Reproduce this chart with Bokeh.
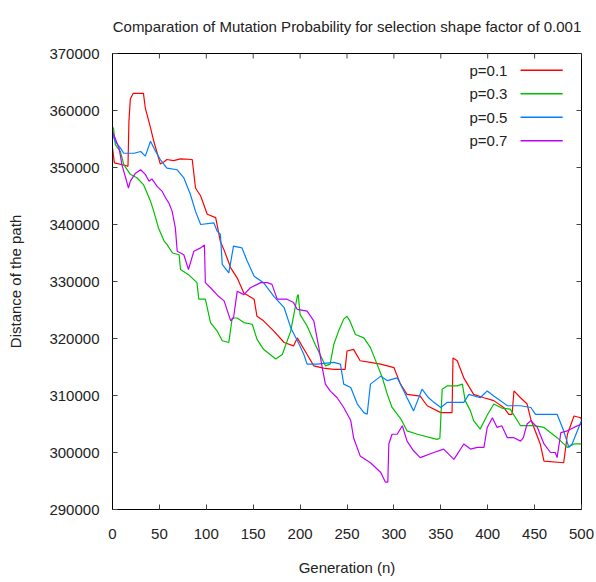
import math
from bokeh.plotting import figure
from bokeh.models import Range1d, SingleIntervalTicker, BasicTickFormatter, ColumnDataSource
from bokeh.core.properties import value
from bokeh.embed import file_html
from bokeh.resources import INLINE

TITLE = "Comparation of Mutation Probability for selection shape factor of 0.001"
X_LABEL = "Generation (n)"
Y_LABEL = "Distance of the path"
SERIES_NAMES = ["p=0.1", "p=0.3", "p=0.5", "p=0.7"]
SERIES_COLORS = ["#ff0000", "#00c000", "#0080ff", "#c000ff"]

X_MIN, X_MAX, X_STEP = 0, 500, 50
Y_MIN, Y_MAX, Y_STEP = 290000, 370000, 10000

gen_01 = [0, 2, 15, 16.5, 17.5, 19, 22, 33, 35, 40.5, 44, 51, 55, 58, 65, 72.5, 85, 88.5, 94, 101,
          110, 115, 119, 126, 133, 140, 151, 154, 161, 172, 183, 193, 197, 207.5, 214.6, 225, 236,
          248, 250, 257, 264, 275, 286, 293, 300, 307, 314, 328, 335.5, 350, 362, 363, 367.5,
          374.5, 385, 396, 406.5, 417, 422.5, 426, 428, 435, 442, 446, 456, 460, 481, 485, 492,
          499, 500]
val_01 = [353400, 350800, 350300, 350200, 358000, 362000, 363000, 363000, 360400, 357000, 354600,
          350600, 351000, 351400, 351200, 351500, 351400, 346400, 345000, 341800, 341200, 337000,
          335500, 332400, 330600, 328000, 326900, 323900, 323100, 321300, 319300, 318700, 320100,
          317200, 315200, 314800, 314600, 314600, 317800, 318100, 316100, 315800, 315500, 315200,
          314900, 312000, 310200, 309900, 308200, 307000, 307000, 316600, 316100, 313100, 310200,
          309600, 309100, 307900, 306700, 306700, 310800, 309600, 308500, 305800, 301500, 298500,
          298200, 303200, 306400, 306100, 305800]

gen_03 = [0, 1, 3, 8.5, 12, 19, 26, 33, 39, 40.5, 44, 49, 55, 58, 64, 71, 72.5, 81, 90, 92, 99,
          104.5, 111.6, 117, 124, 127.6, 133, 140, 149, 154, 161, 168, 174, 181, 190, 197, 198, 200,
          207.5, 216, 227, 232, 236, 241, 246.5, 250, 253, 259, 268, 275, 282, 287.5, 293, 298, 307,
          314, 325, 346, 349, 351.5, 357, 367.5, 373, 376, 381.6, 385, 392, 399, 406.5, 415, 424,
          435, 449, 460, 474, 485, 492, 500]
val_03 = [356600, 357000, 354000, 352800, 350500, 348800, 348200, 347000, 344700, 344100, 342300,
          339400, 337100, 336500, 335000, 334700, 332100, 331200, 329800, 326900, 326900, 322800,
          321300, 319600, 319300, 323600, 323600, 322800, 322500, 319900, 318100, 317200, 316400,
          317200, 321300, 327400, 327700, 324200, 322200, 319000, 315200, 315500, 319000, 321300,
          323400, 323900, 323100, 320700, 320100, 318400, 315500, 313200, 310200, 307900, 306000,
          303800, 303200, 302300, 302500, 311100, 311700, 311700, 312000, 309100, 307300, 305600,
          304100, 306400, 308500, 307800, 307600, 304700, 304700, 304400, 302600, 300900, 301500,
          301500]

gen_05 = [0, 3, 8.5, 12, 23, 30, 35, 40.5, 46, 51, 58, 69, 76, 83, 88.5, 94, 108, 111.6, 115, 117,
          124, 129, 138, 143.6, 151, 161, 172, 183, 190, 199, 204, 207.5, 218, 236, 243, 246.5, 254,
          261, 268, 271.5, 275, 286, 293, 303.5, 307, 314, 321, 330, 337, 342.6, 350, 357, 374.5,
          380, 392, 399.5, 406.5, 413.6, 421, 435, 446, 451, 474, 481, 486.5, 490, 497, 500]
val_05 = [355800, 354500, 353400, 352500, 352500, 352800, 352000, 354600, 352800, 351400, 349900,
          349600, 348200, 345300, 342300, 340000, 340300, 338800, 338300, 333000, 331500, 336200,
          335900, 333600, 330900, 329800, 327400, 325400, 321900, 319000, 317200, 315500, 315500,
          315800, 315500, 312000, 311400, 308500, 307000, 306700, 312000, 313400, 312600, 313100,
          312000, 309600, 307300, 311100, 309600, 308800, 307900, 308800, 308800, 310200, 309600,
          310800, 309900, 309100, 308200, 308200, 307900, 306700, 306700, 303800, 300900, 301500,
          304400, 305600]

gen_07 = [0, 7, 10, 14, 17, 19, 24.5, 30, 35, 39, 42, 47.6, 53, 56.5, 60, 63.6, 67, 69, 76, 81,
          86.7, 94, 98, 99, 104.5, 113, 119, 126, 129, 133, 140, 147, 158, 165, 170, 175.6, 186, 193,
          197, 207.5, 214.6, 220, 223.6, 227, 232, 239.5, 246.5, 254, 257, 264, 275, 286, 291, 293.5,
          294.6, 298, 303.5, 309, 314, 321, 328, 342.6, 353, 364, 374.5, 381.6, 389, 396, 399.5, 405,
          410, 415, 421, 428, 435, 438, 442, 446, 453, 460, 467, 472, 474, 478, 485, 492, 500]
val_07 = [356300, 353400, 350500, 348200, 346400, 347600, 349000, 349600, 348800, 347600, 348000,
          346700, 345800, 344700, 343800, 342300, 339400, 335300, 334700, 332100, 335300, 335900,
          336400, 329800, 328900, 327400, 326600, 323100, 323600, 328300, 327700, 328900, 329800,
          329800, 329500, 326900, 326900, 326300, 325100, 324800, 323100, 318400, 314900, 312000,
          310800, 309600, 307900, 305600, 302600, 299400, 298200, 296500, 294800, 294800, 301500,
          303200, 303200, 304700, 302000, 300300, 299100, 300000, 300600, 298800, 301500, 300600,
          300900, 300900, 304400, 306100, 304400, 304700, 302600, 302600, 302000, 302600, 305000,
          305600, 304400, 301500, 300000, 300000, 299100, 303500, 303800, 304400, 305000]

SERIES_X = [gen_01, gen_03, gen_05, gen_07]
SERIES_Y = [val_01, val_03, val_05, val_07]

X_TICKS = list(range(X_MIN, X_MAX + 1, X_STEP))
Y_TICKS = list(range(Y_MIN, Y_MAX + 1, Y_STEP))

FONT = "Liberation Sans"
TEXT_COLOR = "#222222"

p = figure(width=596, height=582, output_backend="svg", toolbar_location=None,
           x_range=Range1d(X_MIN, X_MAX), y_range=Range1d(Y_MIN, Y_MAX),
           min_border_left=112, min_border_right=15, min_border_top=52, min_border_bottom=73,
           x_axis_label=X_LABEL, y_axis_label=Y_LABEL)
p.title.text = TITLE
p.title.align = "center"
p.title.vertical_align = "top"
p.title.text_font = FONT
p.title.text_font_size = "15px"
p.title.text_font_style = "normal"
p.title.text_color = TEXT_COLOR
p.title.standoff = 34

p.grid.visible = False
p.outline_line_color = "black"
p.outline_line_width = 1
p.background_fill_color = "white"
p.border_fill_color = "white"

for ax in p.xaxis + p.yaxis:
    ax.axis_line_color = "black"
    ax.major_tick_in = 5
    ax.major_tick_out = 0
    ax.minor_tick_in = 0
    ax.minor_tick_out = 0
    ax.major_tick_line_color = "#444444"
    ax.major_label_text_font = FONT
    ax.major_label_text_color = TEXT_COLOR
    ax.major_label_text_font_size = "15px"
    ax.axis_label_text_font = FONT
    ax.axis_label_text_font_style = "normal"
    ax.axis_label_text_color = TEXT_COLOR
    ax.axis_label_text_font_size = "15px"

p.xaxis.ticker = SingleIntervalTicker(interval=X_STEP)
p.yaxis.ticker = SingleIntervalTicker(interval=Y_STEP)
p.yaxis.formatter = BasicTickFormatter(use_scientific=False)
p.xaxis.major_label_standoff = 19
p.xaxis.axis_label_standoff = 17
p.yaxis.major_label_standoff = 13
p.yaxis.axis_label_standoff = 22

# mirrored inner ticks on top and right edges (half of each dash is clipped by the frame)
p.scatter(X_TICKS, [Y_MAX] * len(X_TICKS), marker="dash", size=10, angle=math.pi / 2,
          line_color="#444444", line_width=1)
p.scatter([X_MAX] * len(Y_TICKS), Y_TICKS, marker="dash", size=10,
          line_color="#444444", line_width=1)

for xs, ys, c in zip(SERIES_X, SERIES_Y, SERIES_COLORS):
    p.line(xs, ys, line_color=c, line_width=1.2)

# legend drawn like gnuplot: label on the left, sample line on the right
xr = X_MAX - X_MIN
yr = Y_MAX - Y_MIN
leg_text_x = X_MIN + 0.842 * xr
leg_line_x0 = X_MIN + 0.870 * xr
leg_line_x1 = X_MIN + 0.960 * xr
leg_y0 = Y_MAX - 0.037 * yr
leg_dy = 0.0515 * yr
rows = list(range(len(SERIES_NAMES)))
ys_leg = [leg_y0 - i * leg_dy for i in rows]
src = ColumnDataSource(dict(x=[leg_text_x] * len(rows), y=ys_leg, t=SERIES_NAMES,
                            x0=[leg_line_x0] * len(rows), x1=[leg_line_x1] * len(rows),
                            c=SERIES_COLORS))
p.text(x="x", y="y", text="t", source=src, text_align="right", text_baseline="middle",
       text_font=value(FONT), text_font_size="15px", text_color=TEXT_COLOR)
p.segment(x0="x0", y0="y", x1="x1", y1="y", source=src, line_color="c", line_width=1.5)

open("out.html", "w").write(file_html(p, INLINE))
